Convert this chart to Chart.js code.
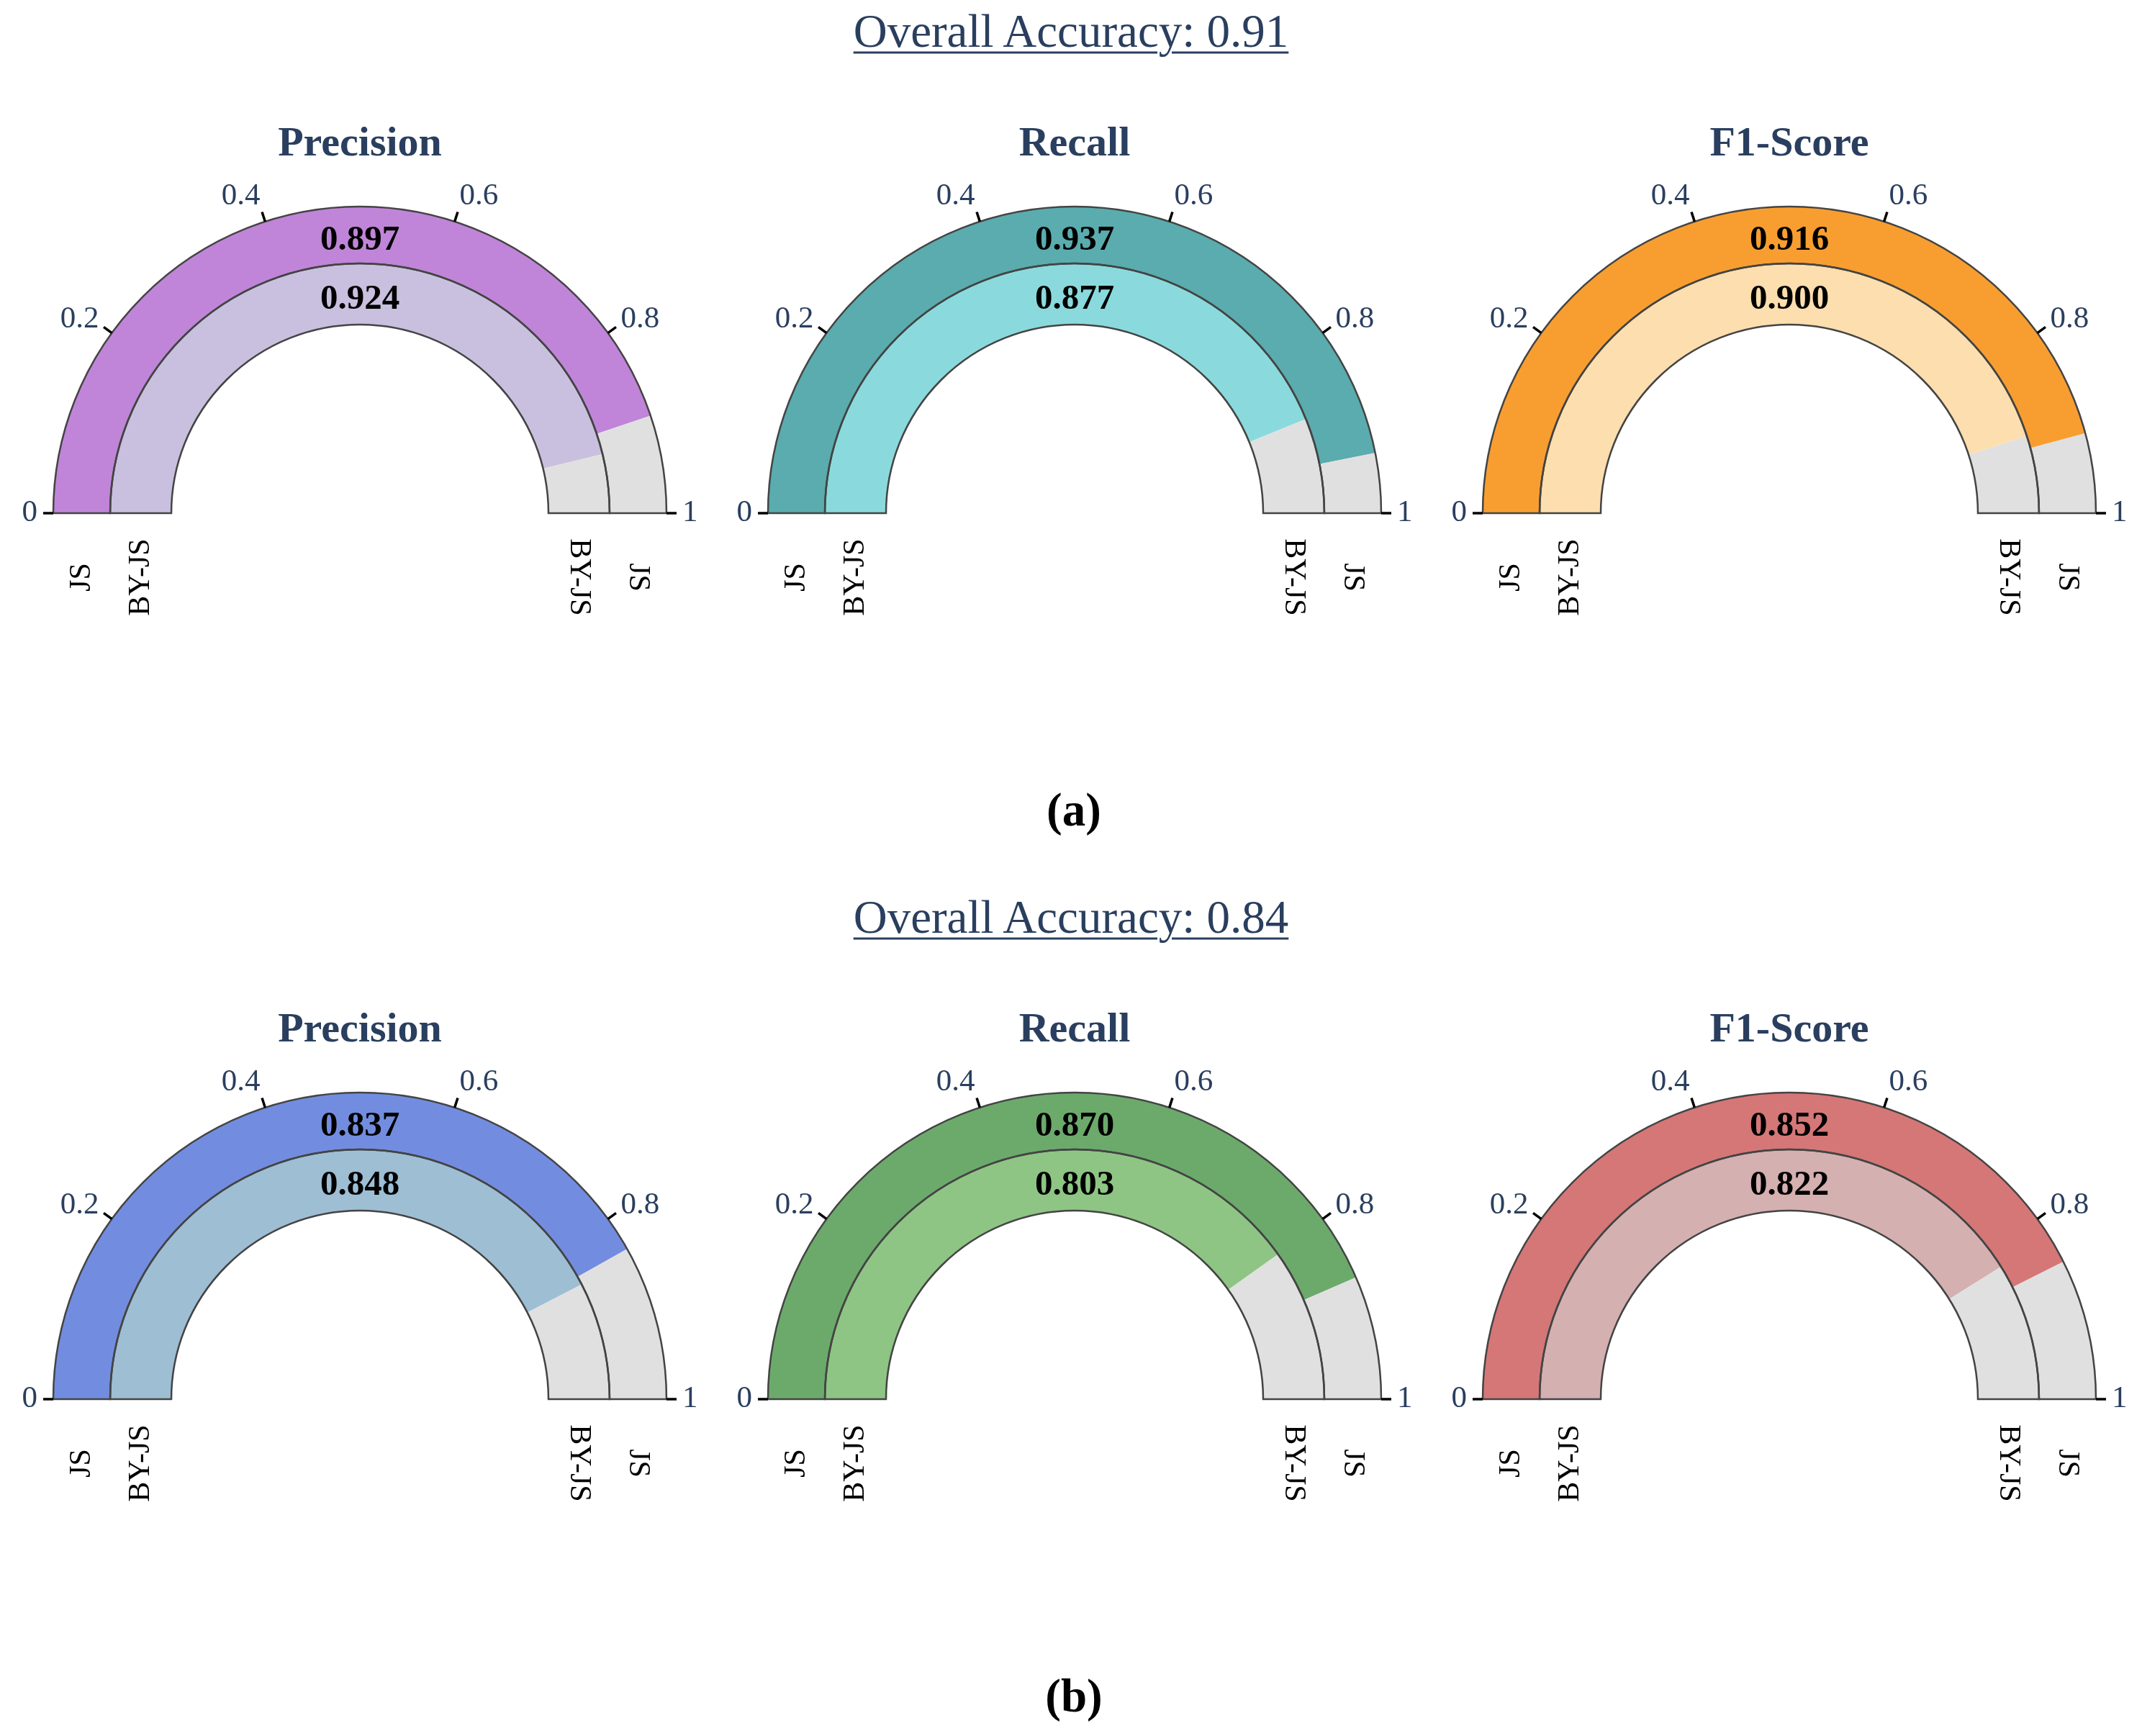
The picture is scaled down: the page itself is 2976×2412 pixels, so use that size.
<!DOCTYPE html>
<html>
<head>
<meta charset="utf-8">
<script src="https://cdn.jsdelivr.net/npm/chart.js"></script>
<style>
  body { margin: 0; background: #fff; }
  #page { position: relative; width: 2976px; height: 2412px; font-family: "Liberation Serif", serif; }
  .txt { position: absolute; transform: translate(-50%, -50%); white-space: nowrap; line-height: 1; }
  .overall { font-size: 65px; color: #2a3f5f; text-decoration: underline; text-decoration-thickness: 3px; text-underline-offset: 7px; }
  .metric { font-size: 58px; font-weight: bold; color: #2a3f5f; }
  .panel { font-size: 65px; font-weight: bold; color: #000; }
  canvas { position: absolute; }
</style>
</head>
<body>
<div id="page"></div>
<script>
// data
const metrics = ['Precision', 'Recall', 'F1-Score'];
const ringLabels = ['JS', 'BY-JS'];
const panels = ['(a)', '(b)'];
const accuracy = [0.91, 0.84];
const jsA = [0.897, 0.937, 0.916];
const byjsA = [0.924, 0.877, 0.900];
const jsB = [0.837, 0.870, 0.852];
const byjsB = [0.848, 0.803, 0.822];
const tickVals = [0, 0.2, 0.4, 0.6, 0.8, 1];

const colorsA = [['#c085d9', '#c9c0df'], ['#5aacae', '#8adadd'], ['#f89e30', '#fddeae']];
const colorsB = [['#728de0', '#9ebed4'], ['#6caa6c', '#8ec584'], ['#d57777', '#d5b0b0']];
const restColor = '#e0e0e0';

const rows = [
  { js: jsA, byjs: byjsA, colors: colorsA, base: 713 },
  { js: jsB, byjs: byjsB, colors: colorsB, base: 1944 }
];
const centersX = [500, 1493, 2486];

const page = document.getElementById('page');

function addText(cls, text, x, y) {
  const d = document.createElement('div');
  d.className = 'txt ' + cls;
  d.textContent = text;
  d.style.left = x + 'px';
  d.style.top = y + 'px';
  page.appendChild(d);
}

// ring outlines, value labels, ticks and ring names
const gaugeDecor = {
  id: 'gaugeDecor',
  afterDatasetsDraw(chart) {
    const ctx = chart.ctx;
    const first = chart.getDatasetMeta(0).data[0];
    const cx = first.x, cy = first.y, R = first.outerRadius;
    ctx.save();

    chart.data.datasets.forEach((ds, i) => {
      const a = chart.getDatasetMeta(i).data[0];
      const mid = (a.outerRadius + a.innerRadius) / 2;

      ctx.beginPath();
      ctx.arc(cx, cy, a.outerRadius, Math.PI, 2 * Math.PI);
      ctx.arc(cx, cy, a.innerRadius, 2 * Math.PI, Math.PI, true);
      ctx.closePath();
      ctx.lineWidth = 2.5;
      ctx.strokeStyle = '#444';
      ctx.stroke();

      ctx.fillStyle = '#000';
      ctx.font = 'bold 49px "Liberation Serif"';
      ctx.textAlign = 'center';
      ctx.textBaseline = 'middle';
      ctx.fillText(ds.data[0].toFixed(3), cx, cy - mid + 8);

      ctx.font = '42px "Liberation Serif"';
      ctx.save();
      ctx.translate(cx - mid, cy + 89);
      ctx.rotate(-Math.PI / 2);
      ctx.fillText(ds.label, 0, 0);
      ctx.restore();
      ctx.save();
      ctx.translate(cx + mid, cy + 89);
      ctx.rotate(Math.PI / 2);
      ctx.fillText(ds.label, 0, 0);
      ctx.restore();
    });

    ctx.font = '43px "Liberation Serif"';
    ctx.textBaseline = 'middle';
    tickVals.forEach(v => {
      const ang = Math.PI + v * Math.PI;
      const c = Math.cos(ang), s = Math.sin(ang);
      ctx.beginPath();
      ctx.moveTo(cx + c * R, cy + s * R);
      ctx.lineTo(cx + c * (R + 14), cy + s * (R + 14));
      ctx.lineWidth = 3.5;
      ctx.strokeStyle = '#000';
      ctx.stroke();
      const off = R + 22;
      ctx.textAlign = c < -0.01 ? 'right' : (c > 0.01 ? 'left' : 'center');
      ctx.fillStyle = '#2a3f5f';
      ctx.fillText(String(v), cx + c * off, cy + s * off - 16 * s * s);
    });
    ctx.restore();
  }
};

rows.forEach((row, r) => {
  addText('overall', 'Overall Accuracy: ' + accuracy[r].toFixed(2), 1488, row.base - 670);
  addText('panel', panels[r], 1492, row.base + 412);

  metrics.forEach((m, k) => {
    const cx = centersX[k];
    addText('metric', m, cx, row.base - 516);

    const cv = document.createElement('canvas');
    cv.width = 992;
    cv.height = 636;
    cv.style.left = (cx - 496) + 'px';
    cv.style.top = (row.base - 486) + 'px';
    page.appendChild(cv);

    new Chart(cv, {
      type: 'doughnut',
      data: {
        labels: ['value', 'rest'],
        datasets: [
          {
            label: ringLabels[0],
            data: [row.js[k], 1 - row.js[k]],
            backgroundColor: [row.colors[k][0], restColor],
            borderWidth: 0,
            weight: 0.93
          },
          {
            label: ringLabels[1],
            data: [row.byjs[k], 1 - row.byjs[k]],
            backgroundColor: [row.colors[k][1], restColor],
            borderWidth: 0,
            weight: 1
          }
        ]
      },
      options: {
        responsive: false,
        animation: false,
        rotation: -90,
        circumference: 180,
        cutout: '61.5%',
        layout: { padding: { left: 70, right: 70, top: 60, bottom: 150 } },
        plugins: {
          legend: { display: false },
          tooltip: { enabled: false }
        }
      },
      plugins: [gaugeDecor]
    });
  });
});
</script>
</body>
</html>
